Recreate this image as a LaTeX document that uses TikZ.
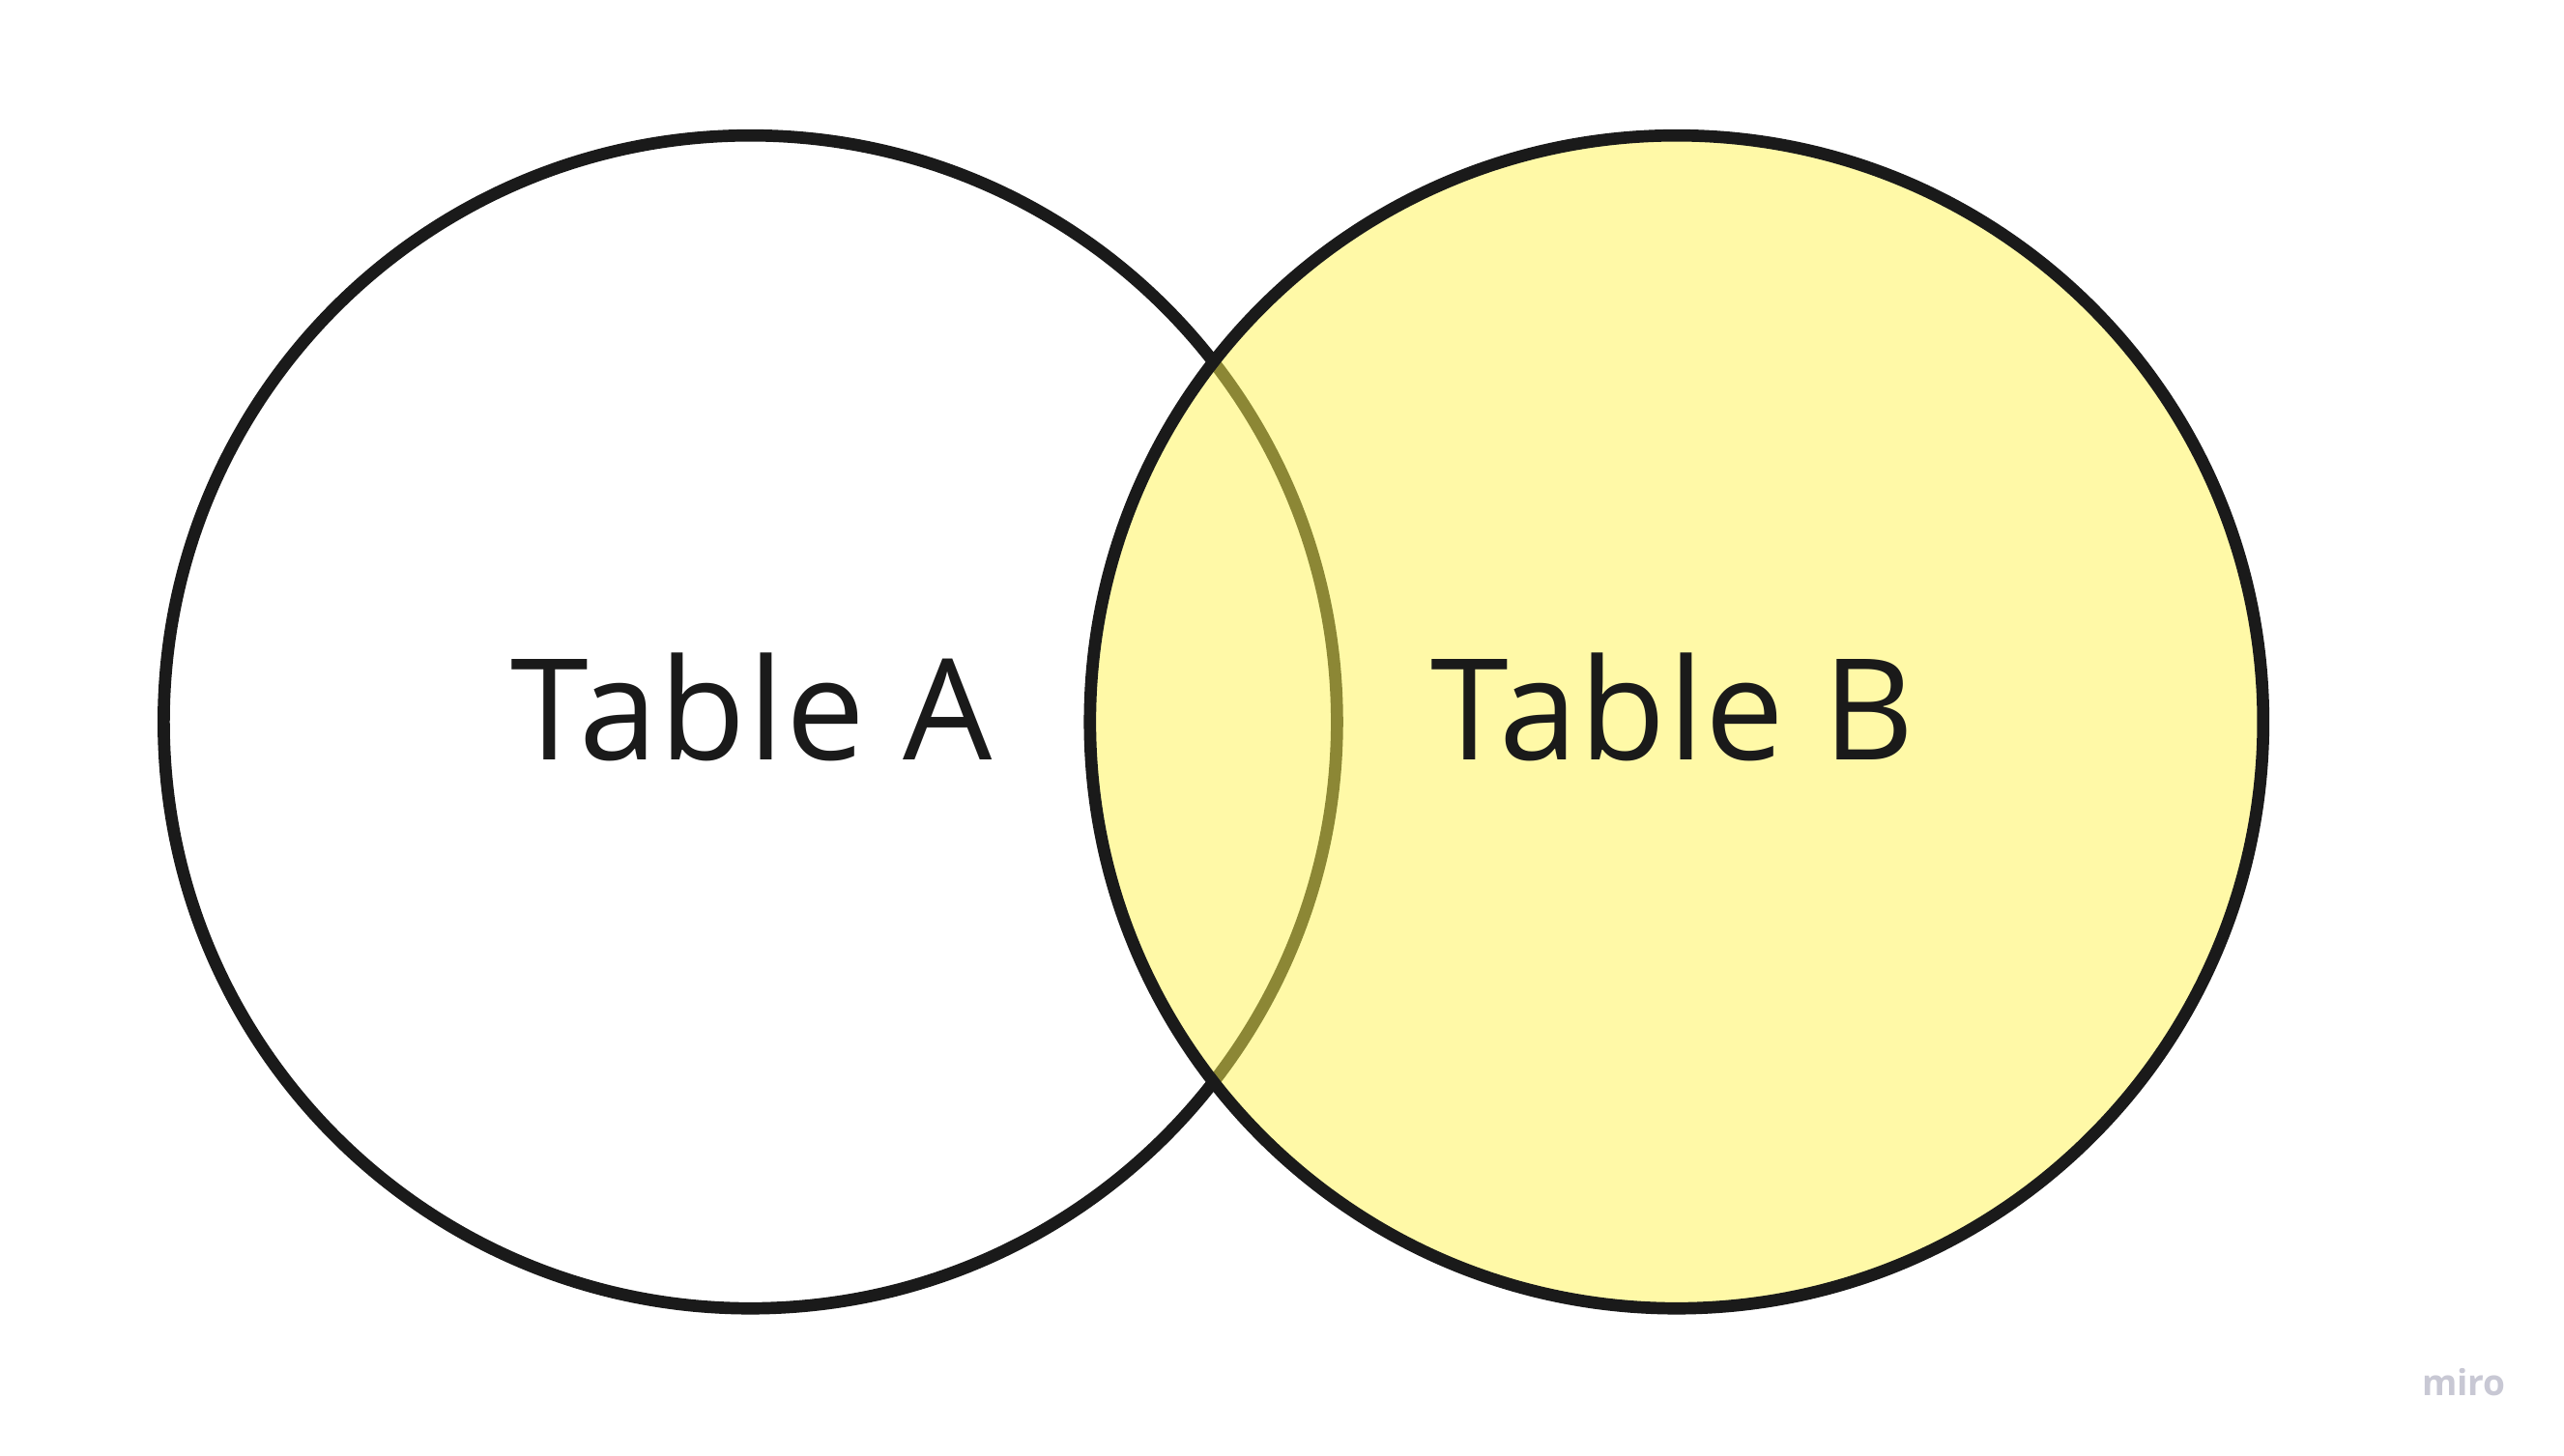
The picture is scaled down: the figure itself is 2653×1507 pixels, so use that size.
\documentclass[tikz,border=0pt]{standalone}
\usepackage{fontspec}
\setmainfont{Open Sans}[Kerning=Off]
\definecolor{ink}{RGB}{26,26,26}
\definecolor{venny}{RGB}{255,244,80}
\definecolor{logo}{RGB}{200,200,212}
\begin{document}
\begin{tikzpicture}[x=1bp,y=-1bp,
  setcircle/.style={circle, draw=ink, line width=12.7bp, inner sep=0pt, minimum size=1214bp},
  label/.style={text=ink, inner sep=0pt, font=\fontsize{145.7bp}{175bp}\selectfont\addfontfeatures{LetterSpace=1.4}}]
\useasboundingbox (0,0) rectangle (2653,1507);
\fill[white] (0,0) rectangle (2653,1507);
\node[setcircle, fill=white] (A) at (776.4,747.2) {};
\node[setcircle, fill=venny, fill opacity=0.5] (B) at (1734.8,747.2) {};
\node[label, anchor=base] (tA) at (778,786.7) {Table A};
\node[label, anchor=base] (tB) at (1731,786.7) {Table B};
\node[text=logo, inner sep=0pt, anchor=base, font=\bfseries\fontsize{37bp}{45bp}\selectfont] (logo) at (2549.5,1444) {miro};
\end{tikzpicture}
\end{document}
